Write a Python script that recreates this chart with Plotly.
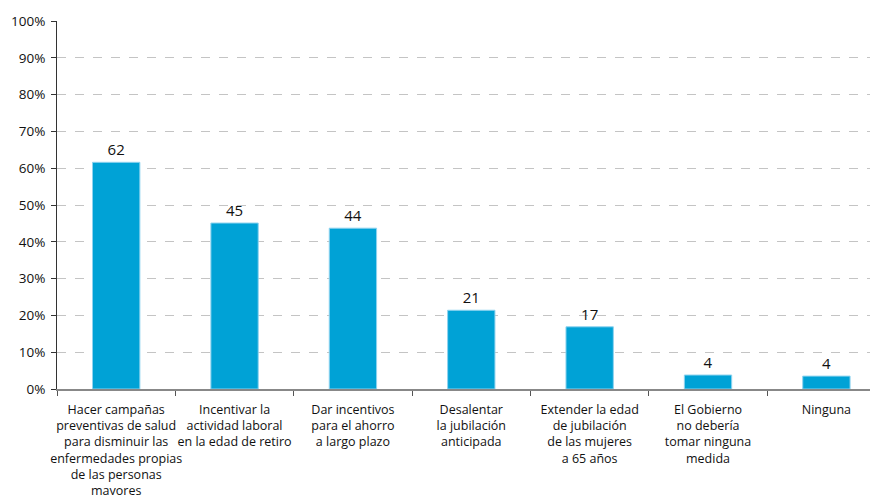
import plotly.graph_objects as go

categories = [
    "Hacer campañas<br>preventivas de salud<br>para disminuir las<br>enfermedades propias<br>de las personas<br>mayores",
    "Incentivar la<br>actividad laboral<br>en la edad de retiro",
    "Dar incentivos<br>para el ahorro<br>a largo plazo",
    "Desalentar<br>la jubilación<br>anticipada",
    "Extender la edad<br>de jubilación<br>de las mujeres<br>a 65 años",
    "El Gobierno<br>no debería<br>tomar ninguna<br>medida",
    "Ninguna",
]
values = [61.6, 45.1, 43.7, 21.4, 16.9, 3.8, 3.5]
labels = ["62", "45", "44", "21", "17", "4", "4"]
y_ticks = [0, 10, 20, 30, 40, 50, 60, 70, 80, 90, 100]
y_ticklabels = [f"{v}%" for v in y_ticks]

FONT = "Open Sans"

fig = go.Figure(go.Bar(
    x=categories,
    y=values,
    text=labels,
    textposition="outside",
    cliponaxis=False,
    textfont=dict(family=FONT, size=15, color="#111111"),
    marker=dict(color="#00A2D6", line=dict(color="#8fd3ef", width=1)),
    width=0.4,
))

# page body has an 8px margin, so compensate to place the plot area
fig.update_layout(
    width=878, height=495,
    margin=dict(l=49, r=8, t=13, b=114),
    plot_bgcolor="white", paper_bgcolor="white",
    font=dict(family=FONT, size=12.5, color="#111111"),
    showlegend=False,
)
fig.update_xaxes(
    type="category",
    range=[-0.5, 6.436],
    tickson="boundaries",
    ticks="outside", ticklen=5, tickcolor="#555",
    showline=True, linecolor="#888", linewidth=1.5,
    showgrid=False,
    tickangle=0,
    automargin=False,
    ticklabelstandoff=8,
    tickfont=dict(family=FONT, size=12.5),
)
fig.update_yaxes(
    range=[0, 100],
    tickvals=y_ticks, ticktext=y_ticklabels,
    ticks="outside", ticklen=5, tickcolor="#333",
    showline=True, linecolor="#333", linewidth=1,
    showgrid=True, gridcolor="#c4c4c4", griddash="dash", gridwidth=1,
    zeroline=False,
    automargin=False,
    ticklabelstandoff=3,
    tickfont=dict(family=FONT, size=13.5),
)

fig.write_html("out.html")
